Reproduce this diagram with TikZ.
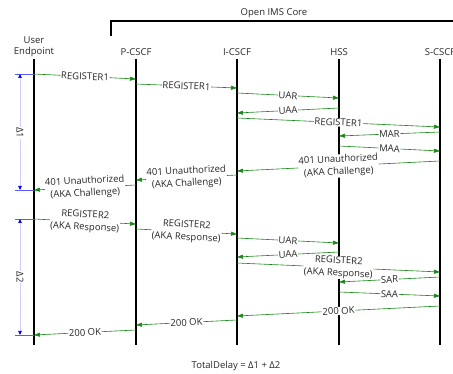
\documentclass[tikz,border=0pt]{standalone}
\usepackage{fontspec}
\setmainfont{Open Sans}
\usetikzlibrary{arrows.meta}
\definecolor{msggreen}{RGB}{20,135,20}
\definecolor{tickblue}{RGB}{90,90,255}
\definecolor{paleblue}{RGB}{205,205,255}
\definecolor{tipblue}{RGB}{0,0,235}
\newcommand\msgarrow[5]{\draw[msg] (#1 |- 0,#2) -- node[lbl]{#5} (#3 |- 0,#4);}
\begin{document}
\begin{tikzpicture}[x=1pt,y=-1pt,
  font=\fontsize{9.5}{12.5}\selectfont,
  hdr/.style={inner sep=0pt, align=center, text=black!85},
  life/.style={line width=1.1pt, black},
  msg/.style={draw=msggreen, line width=0.6pt, -{Triangle[length=6pt,width=4pt]}},
  lbl/.style={fill=white, inner sep=0.6pt, sloped, align=center, text=black!85},
  tick/.style={draw=tickblue, line width=0.7pt},
  delta/.style={draw=paleblue, line width=0.7pt, {Triangle[length=4pt,width=3.5pt,color=tipblue]}-{Triangle[length=4pt,width=3.5pt,color=tipblue]}},
  dlbl/.style={fill=white, inner sep=0.8pt, rotate=-90, text=black!85}]
\useasboundingbox (0,0) rectangle (453,374);

% group bracket
\node[hdr] (core) at (274,13) {Open IMS Core};
\coordinate (brA) at (111,36);
\coordinate (brB) at (111,21);
\coordinate (brC) at (453,21);
\draw[line width=1.1pt] (brA) -- (brB) -- (brC);

% headers
\node[hdr, font=\fontsize{9.5}{11.5}\selectfont] (ue) at (34,47) {User\\Endpoint};
\node[hdr] (pc) at (136,52) {P-CSCF};
\node[hdr] (ic) at (237,52) {I-CSCF};
\node[hdr] (hss) at (339,52) {HSS};
\node[hdr] (sc) at (440,52) {S-CSCF};

% lifelines
\foreach \n in {ue,pc,ic,hss,sc}{
  \draw[life] (\n |- 0,59) -- (\n |- 0,345);
}

% delta markers
\coordinate (a1) at (15,74);
\coordinate (b1) at (15,190);
\coordinate (a2) at (15,219);
\coordinate (b2) at (15,335);
\draw[tick] (a1) -- (ue |- a1);
\draw[tick] (b1) -- (ue |- b1);
\draw[tick] (a2) -- (ue |- a2);
\draw[tick] (b2) -- (ue |- b2);
\coordinate (v1a) at (20,74);
\coordinate (v1b) at (20,190);
\coordinate (v2a) at (20,219);
\coordinate (v2b) at (20,335);
\draw[delta] (v1a) -- (v1b);
\draw[delta] (v2a) -- (v2b);
\node[dlbl] (d1) at (20,133) {Δ1};
\node[dlbl] (d2) at (20,277) {Δ2};

% messages
\msgarrow{ue}{74}{pc}{79}{REGISTER1}
\msgarrow{pc}{84}{ic}{88}{REGISTER1}
\msgarrow{ic}{93}{hss}{98}{UAR}
\msgarrow{hss}{108}{ic}{113}{UAA}
\msgarrow{ic}{118}{sc}{127}{REGISTER1}
\msgarrow{sc}{132}{hss}{136}{MAR}
\msgarrow{hss}{146}{sc}{151}{MAA}
\msgarrow{sc}{161}{ic}{171}{401 Unauthorized\\(AKA Challenge)}
\msgarrow{ic}{175}{pc}{180}{401 Unauthorized\\(AKA Challenge)}
\msgarrow{pc}{185}{ue}{190}{401 Unauthorized\\(AKA Challenge)}
\msgarrow{ue}{219}{pc}{224}{REGISTER2\\(AKA Response)}
\msgarrow{pc}{229}{ic}{234}{REGISTER2\\(AKA Response)}
\msgarrow{ic}{238}{hss}{243}{UAR}
\msgarrow{hss}{252}{ic}{257}{UAA}
\msgarrow{ic}{263}{sc}{272}{REGISTER2\\(AKA Response)}
\msgarrow{sc}{277}{hss}{282}{SAR}
\msgarrow{hss}{292}{sc}{296}{SAA}
\msgarrow{sc}{306}{ic}{316}{200 OK}
\msgarrow{ic}{320}{pc}{325}{200 OK}
\msgarrow{pc}{330}{ue}{335}{200 OK}

% total
\node[hdr] (tot) at (236,366) {TotalDelay = Δ1 + Δ2};
\end{tikzpicture}
\end{document}
